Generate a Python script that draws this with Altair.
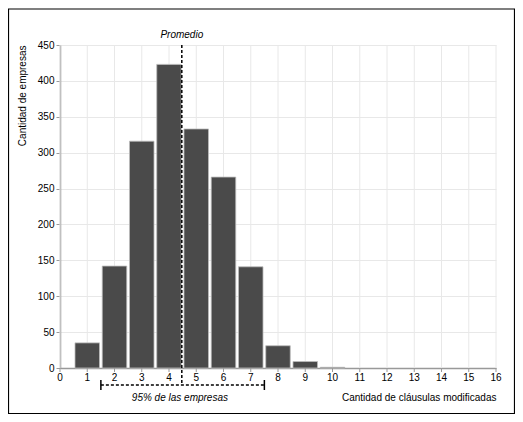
import altair as alt
import pandas as pd

# data
clausulas = [1, 2, 3, 4, 5, 6, 7, 8, 9, 10]
empresas = [35, 142, 316, 423, 333, 266, 141, 31, 9, 1]
promedio = 4.47
rango_95 = [1.5, 7.5]

FONT = "Liberation Sans"
W, H = 436, 323
X_TICKS = list(range(17))
Y_TICKS = list(range(0, 451, 50))

df = pd.DataFrame({"clausulas": clausulas, "empresas": empresas})
df["x0"] = df["clausulas"] - 0.45
df["x1"] = df["clausulas"] + 0.45
ticks_df = pd.DataFrame({"t": X_TICKS})

x_scale = alt.Scale(domain=[0, 16], nice=False, zero=False)
y_scale = alt.Scale(domain=[0, 450], nice=False)

# native x axis only keeps domain line and title; ticks/grid/labels drawn below
x_axis = alt.Axis(
    grid=False,
    ticks=False,
    labels=False,
    title="Cantidad de cláusulas modificadas",
    titleAnchor="end",
    titleAlign="right",
    titleBaseline="middle",
    titleX=W,
    titleY=29,
    titleFontWeight="normal",
    titleFont=FONT,
    titleFontSize=10,
)


def xq(field):
    return alt.X(field, scale=x_scale, axis=x_axis)


x_grid = (
    alt.Chart(ticks_df)
    .mark_rule(color="#e8e8e8", strokeWidth=1)
    .encode(x=xq("t:Q"), y=alt.value(0), y2=alt.value(H))
)
x_tickmarks = (
    alt.Chart(ticks_df)
    .mark_rule(color="#999999", strokeWidth=1)
    .encode(x=xq("t:Q"), y=alt.value(H), y2=alt.value(H + 4))
)
x_labels = (
    alt.Chart(ticks_df)
    .mark_text(font=FONT, fontSize=10, baseline="middle", color="black")
    .encode(x=xq("t:Q"), y=alt.value(H + 10), text="t:Q")
)

bars = (
    alt.Chart(df)
    .mark_bar(color="#4a4a4a", stroke="#bdbdbd", strokeWidth=0.8)
    .encode(
        x=xq("x0:Q"),
        x2="x1:Q",
        y=alt.Y(
            "empresas:Q",
            scale=y_scale,
            axis=alt.Axis(
                values=Y_TICKS,
                title="Cantidad de empresas",
                titleAngle=270,
                titleAlign="right",
                titleBaseline="middle",
                titleX=-38,
                titleY=0,
                titleFontWeight="normal",
                titleFont=FONT,
                titleFontSize=10,
            ),
        ),
        y2=alt.datum(0),
    )
)

mean_df = pd.DataFrame({"x": [promedio], "label": ["Promedio"]})
mean_line = (
    alt.Chart(mean_df)
    .mark_rule(color="black", strokeDash=[3, 2], strokeWidth=1.5)
    .encode(x=xq("x:Q"), y=alt.value(0), y2=alt.value(340))
)
mean_text = (
    alt.Chart(mean_df)
    .mark_text(font=FONT, fontSize=10, fontStyle="italic", baseline="middle")
    .encode(x=xq("x:Q"), y=alt.value(-10), text="label:N")
)

rango_df = pd.DataFrame({"a": [rango_95[0]], "b": [rango_95[1]],
                         "mid": [4.4], "label": ["95% de las empresas"]})
bracket = (
    alt.Chart(rango_df)
    .mark_rule(color="black", strokeDash=[3, 2], strokeWidth=1.5)
    .encode(x=xq("a:Q"), x2="b:Q", y=alt.value(340))
)
ends_df = pd.DataFrame({"x": rango_95})
bracket_ends = (
    alt.Chart(ends_df)
    .mark_rule(color="black", strokeWidth=1.5)
    .encode(x=xq("x:Q"), y=alt.value(335), y2=alt.value(345))
)
bracket_text = (
    alt.Chart(rango_df)
    .mark_text(font=FONT, fontSize=10, fontStyle="italic", baseline="middle")
    .encode(x=xq("mid:Q"), y=alt.value(353), text="label:N")
)

# frame around the whole figure
frame = (
    alt.Chart(mean_df)
    .mark_rect(fill=None, stroke="black", strokeWidth=1.2)
    .encode(x=alt.value(-51.5), x2=alt.value(454.5), y=alt.value(-36), y2=alt.value(368.5))
)

chart = (
    alt.layer(x_grid, bars, x_tickmarks, x_labels, mean_line, mean_text,
              bracket, bracket_ends, bracket_text, frame)
    .properties(
        width=W,
        height=H,
        autosize=alt.AutoSizeParams(type="none"),
        padding={"left": 52, "top": 37, "right": 19, "bottom": 46},
    )
    .configure_view(strokeWidth=0)
    .configure_axis(
        labelFont=FONT,
        labelFontSize=10,
        labelColor="black",
        gridColor="#e8e8e8",
        gridWidth=1,
        domainColor="#999999",
        domainWidth=1.5,
        tickColor="#999999",
        tickSize=4,
        titleColor="black",
    )
    .configure_axisY(labelPadding=2)
)

chart.save("out.html", embed_options={"renderer": "svg", "actions": False})
